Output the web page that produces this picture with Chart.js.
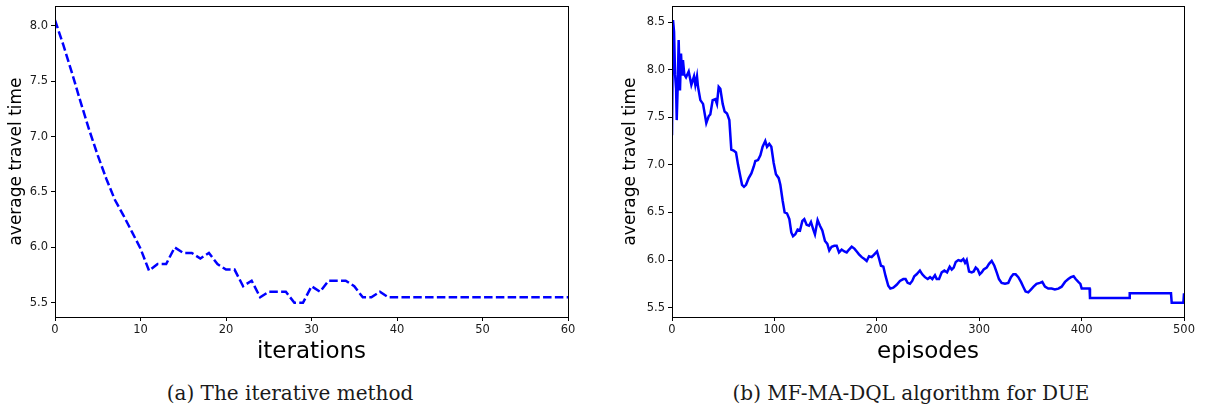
<!DOCTYPE html>
<html>
<head>
<meta charset="utf-8">
<script src="https://cdn.jsdelivr.net/npm/chart.js@4.4.0/dist/chart.umd.min.js"></script>
<style>
  body { margin: 0; background: #fff; width: 1207px; height: 411px; position: relative; overflow: hidden; }
  .box { position: absolute; top: 0; }
  .caption { position: absolute; top: 381px; font: 20px "DejaVu Serif", serif; line-height: 24px; color: #1a1a1a; white-space: nowrap; transform: translateX(-50%); }
</style>
</head>
<body>
<div class="box" style="left:0px;width:600px;height:375px"><canvas id="iterChart" width="600" height="375"></canvas></div>
<div class="box" style="left:614px;width:593px;height:375px"><canvas id="dqlChart" width="593" height="375"></canvas></div>
<div class="caption" style="left:290px">(a) The iterative method</div>
<div class="caption" style="left:911px">(b) MF-MA-DQL algorithm for DUE</div>
<script>
// (a) iterative method: average travel time per iteration (0..60)
var iterTimes = [
  8.05, 7.82, 7.57, 7.31, 7.06, 6.83, 6.62, 6.43, 6.29, 6.14,
  5.99, 5.79, 5.85, 5.85, 6.00, 5.95, 5.95, 5.90, 5.95, 5.85,
  5.80, 5.80, 5.65, 5.70, 5.55, 5.60, 5.60, 5.60, 5.50, 5.50,
  5.65, 5.60, 5.70, 5.70, 5.70, 5.65, 5.55, 5.55, 5.60, 5.55,
  5.55, 5.55, 5.55, 5.55, 5.55, 5.55, 5.55, 5.55, 5.55, 5.55,
  5.55, 5.55, 5.55, 5.55, 5.55, 5.55, 5.55, 5.55, 5.55, 5.55,
  5.55
];
var iterXTicks = [0, 10, 20, 30, 40, 50, 60];
var iterYTicks = [5.5, 6.0, 6.5, 7.0, 7.5, 8.0];

// (b) MF-MA-DQL: episode / average travel time
var episodes = [
  0, 1, 2, 3, 4, 4.6, 5.5, 6.5, 7.8, 8.8, 9.8, 10.7, 12, 13.7, 16.3, 18.9, 21.5, 22.8, 24.4, 25.4,
  27.7, 30.3, 31.9, 33.5, 35.8, 37.4, 39.7, 42.3, 43.9, 45.6, 47.2, 49.5, 51.4, 53.7, 56, 57.9,
  60.2, 62.5, 64.5, 66.7, 68.4, 70.3, 72.3, 74.9, 77.5, 79.8, 81.4, 84, 86.3, 88.5, 91.1, 92.8,
  95, 97, 99.3, 101.5, 104.2, 105.8, 108.1, 110, 112.3, 114.6, 116.5, 118.2, 120.4, 122.7, 125,
  127.3, 129.2, 131.5, 133.8, 135.7, 138, 139.6, 142.2, 144.5, 146.8, 149.4, 151.7, 153.6, 155.9,
  158.5, 160.8, 163.1, 165.7, 168.3, 170.6, 172.9, 175.5, 178.1, 180.4, 182.6, 185.3, 187.9,
  190.1, 192.4, 195, 197.6, 200.2, 202.1, 204.1, 206.4, 208.6, 211.2, 213.2, 216.1, 219.4, 222.6,
  225.9, 228.1, 230.1, 232.4, 234.6, 236.6, 238.9, 242.1, 244.4, 247, 249.7, 252, 254.2, 256.8,
  258.5, 260.8, 263.4, 266, 268.6, 271.2, 273.2, 275.1, 277.1, 279.6, 282.3, 284.5, 286.2, 287.8,
  290.1, 292.7, 294.6, 296.6, 298.6, 300.5, 302.4, 304.4, 307.3, 309.6, 312.2, 314.8, 317.1,
  319.3, 321.9, 325.2, 328.4, 331, 333.3, 335.6, 338.2, 340.8, 343, 345.3, 347.9, 350.5, 353.1,
  356, 359.3, 361.6, 364.2, 367.4, 370.7, 373.9, 377.3, 380.5, 383.8, 387, 389.6, 392.2, 394.2,
  396.8, 398.8, 400.1, 407.8, 408.2, 446.3, 447, 487.3, 488, 499.4, 500
];
var episodeTimes = [
  7.31, 8.52, 8.40, 7.95, 7.80, 7.47, 7.80, 8.31, 7.78, 8.17, 7.95, 8.10, 7.95, 7.92, 7.98, 7.84, 7.93, 7.84, 7.93, 7.82,
  7.68, 7.64, 7.54, 7.44, 7.51, 7.53, 7.68, 7.69, 7.64, 7.82, 7.80, 7.64, 7.56, 7.54, 7.47, 7.16,
  7.15, 7.13, 7.00, 6.88, 6.79, 6.77, 6.79, 6.86, 6.91, 6.98, 7.04, 7.05, 7.10, 7.19, 7.25, 7.19,
  7.22, 7.19, 7.02, 6.90, 6.86, 6.79, 6.62, 6.50, 6.49, 6.43, 6.29, 6.25, 6.27, 6.32, 6.31,
  6.41, 6.43, 6.37, 6.36, 6.40, 6.32, 6.27, 6.42, 6.36, 6.31, 6.20, 6.17, 6.10, 6.14,
  6.15, 6.15, 6.08, 6.11, 6.09, 6.08, 6.11, 6.14, 6.12, 6.09, 6.06, 6.03, 6.01,
  5.99, 6.04, 6.03, 6.06, 6.09, 6.02, 5.94, 5.93, 5.83, 5.73, 5.70, 5.71, 5.74, 5.78,
  5.80, 5.80, 5.76, 5.75, 5.78, 5.83, 5.85, 5.89, 5.85, 5.82, 5.80, 5.82, 5.80, 5.84,
  5.80, 5.80, 5.87, 5.89, 5.87, 5.93, 5.90, 5.92, 5.98, 6.00, 5.99, 6.01, 5.97, 6.00,
  5.88, 5.87, 5.88, 5.92, 5.90, 5.85, 5.87, 5.90, 5.92, 5.96, 5.99, 5.94, 5.87,
  5.80, 5.76, 5.75, 5.76, 5.82, 5.85, 5.85, 5.82, 5.77, 5.72, 5.67, 5.66, 5.69, 5.72,
  5.75, 5.76, 5.77, 5.72, 5.70, 5.70, 5.69, 5.70, 5.72, 5.77, 5.80, 5.82, 5.83, 5.80,
  5.77, 5.75, 5.70, 5.70, 5.60, 5.60, 5.65, 5.65, 5.55, 5.55, 5.65
];
var dqlXTicks = [0, 100, 200, 300, 400, 500];
var dqlYTicks = [5.5, 6.0, 6.5, 7.0, 7.5, 8.0, 8.5];

// frame round the plot area (matplotlib spines)
var frame = {
  id: "frame",
  afterDraw: function (chart) {
    var a = chart.chartArea, c = chart.ctx;
    c.save();
    c.strokeStyle = "#000";
    c.lineWidth = 1;
    c.strokeRect(Math.round(a.left) + 0.5, Math.round(a.top) + 0.5,
      Math.round(a.right - a.left), Math.round(a.bottom - a.top));
    c.restore();
  }
};

function makeOptions(o) {
  var tickFont = { family: "DejaVu Sans", size: 11.5 };
  return {
    responsive: false,
    animation: false,
    devicePixelRatio: 1,
    layout: { padding: { top: 6, right: o.padRight, bottom: 0, left: 0 } },
    plugins: { legend: { display: false }, tooltip: { enabled: false } },
    scales: {
      x: {
        type: "linear",
        min: o.xTicks[0],
        max: o.xTicks[o.xTicks.length - 1],
        afterBuildTicks: function (s) { s.ticks = o.xTicks.map(function (v) { return { value: v }; }); },
        afterFit: function (s) { s.height = 58; s.paddingLeft = 0; s.paddingRight = 0; },
        ticks: { color: "#1a1a1a", font: tickFont, padding: 2, maxRotation: 0, autoSkip: false },
        grid: { drawOnChartArea: false, drawTicks: true, tickLength: 4, color: "#000" },
        border: { display: true, color: "#000" },
        title: { display: true, text: o.xTitle, color: "#000",
          font: { family: "DejaVu Sans", size: 23 }, padding: { top: 0, bottom: 9 } }
      },
      y: {
        min: o.yMin,
        max: o.yMax,
        afterBuildTicks: function (s) { s.ticks = o.yTicks.map(function (v) { return { value: v }; }); },
        afterFit: function (s) { s.width = o.yWidth; s.paddingTop = 0; s.paddingBottom = 0; },
        ticks: { color: "#1a1a1a", font: tickFont, padding: 3, autoSkip: false,
          callback: function (v) { return v.toFixed(1); } },
        grid: { drawOnChartArea: false, drawTicks: true, tickLength: 4, color: "#000" },
        border: { display: true, color: "#000" },
        title: { display: true, text: "average travel time", color: "#000",
          font: { family: "DejaVu Sans", size: 17 }, padding: { top: 6.5, bottom: 0 } }
      }
    }
  };
}

new Chart(document.getElementById("iterChart"), {
  type: "line",
  data: {
    datasets: [{
      data: iterTimes.map(function (v, i) { return { x: i, y: v }; }),
      borderColor: "#0000ff",
      borderWidth: 2.5,
      borderDash: [8.5, 3.3],
      pointRadius: 0,
      tension: 0,
      fill: false
    }]
  },
  options: makeOptions({ xTicks: iterXTicks, yTicks: iterYTicks, yMin: 5.3725, yMax: 8.1775,
    yWidth: 55, padRight: 32, xTitle: "iterations" }),
  plugins: [frame]
});

new Chart(document.getElementById("dqlChart"), {
  type: "line",
  data: {
    datasets: [{
      data: episodes.map(function (e, i) { return { x: e, y: episodeTimes[i] }; }),
      borderColor: "#0000ff",
      borderWidth: 2.5,
      pointRadius: 0,
      tension: 0,
      fill: false
    }]
  },
  options: makeOptions({ xTicks: dqlXTicks, yTicks: dqlYTicks, yMin: 5.4015, yMax: 8.6685,
    yWidth: 58, padRight: 23, xTitle: "episodes" }),
  plugins: [frame]
});
</script>
</body>
</html>
